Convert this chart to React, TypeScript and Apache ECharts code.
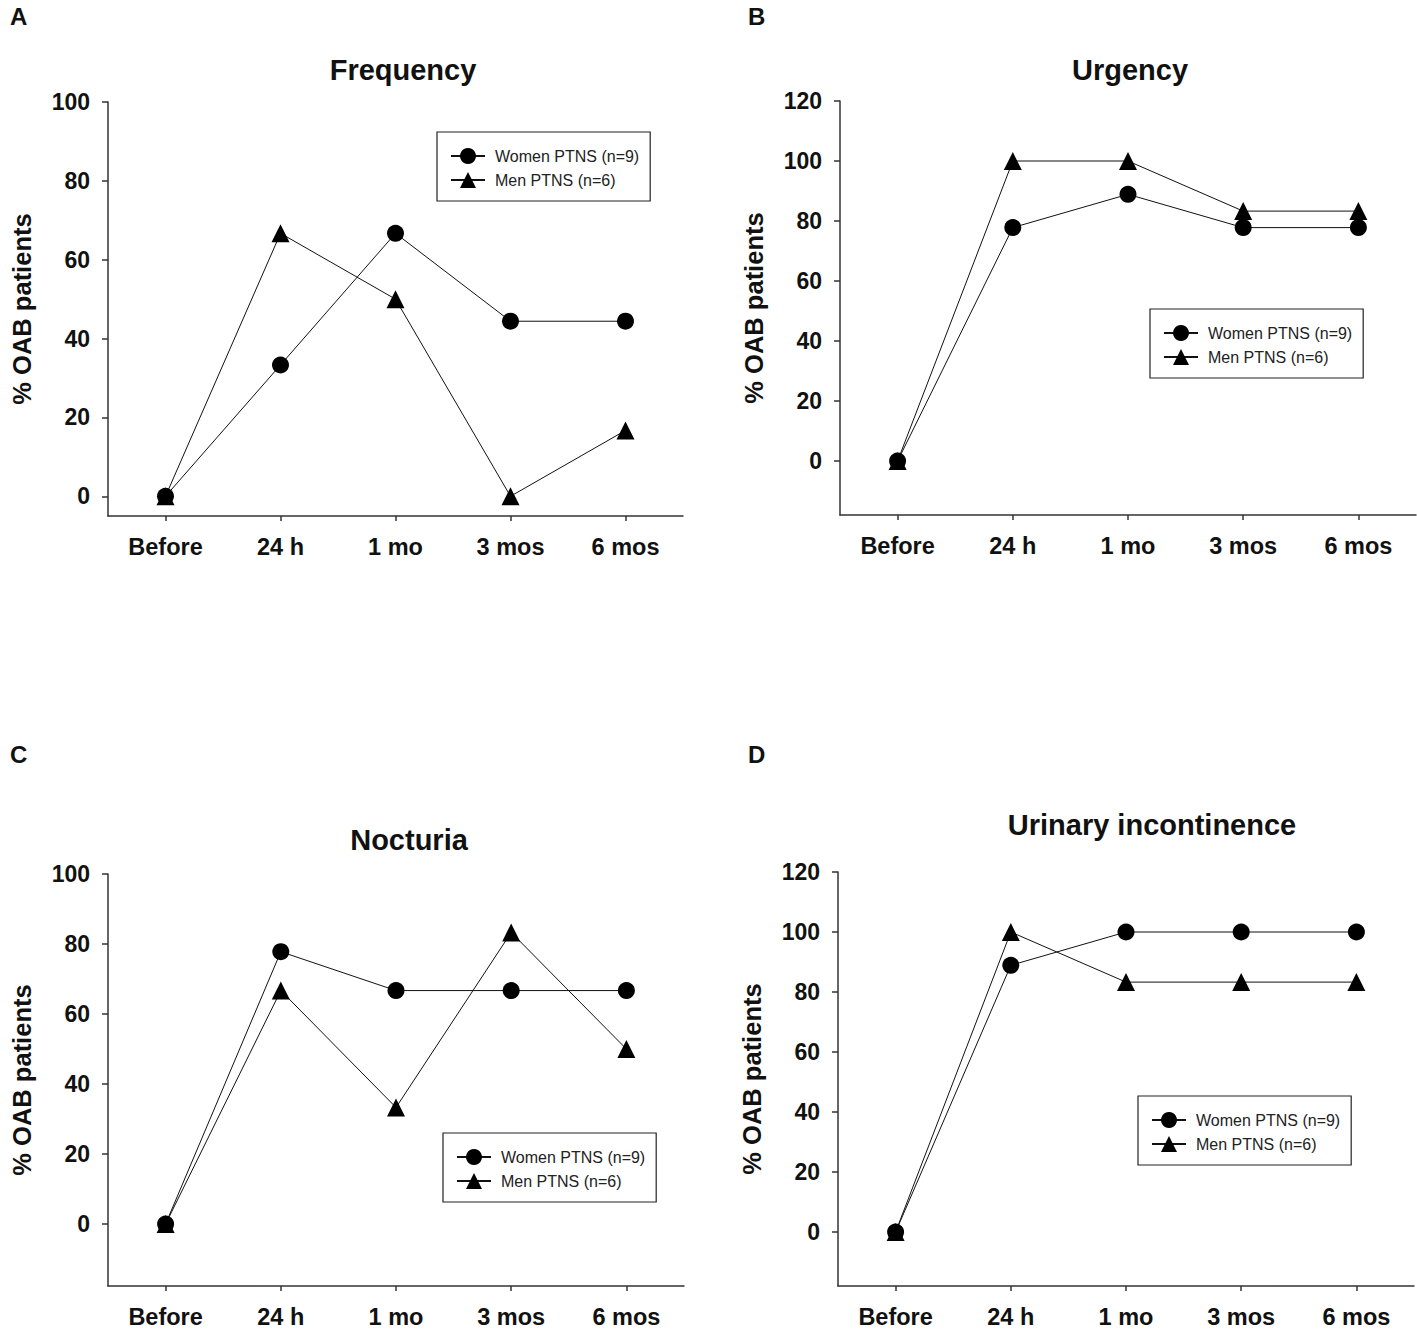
import React, { useEffect, useRef } from "react";
import * as echarts from "echarts";

const categories = ["Before", "24 h", "1 mo", "3 mos", "6 mos"];
const womenName = "Women PTNS (n=9)";
const menName = "Men PTNS (n=6)";

const freqWomen = [0, 33.3, 66.7, 44.4, 44.4];
const freqMen = [0, 66.7, 50, 0, 16.7];
const urgWomen = [0, 77.8, 88.9, 77.8, 77.8];
const urgMen = [0, 100, 100, 83.3, 83.3];
const nocWomen = [0, 77.8, 66.7, 66.7, 66.7];
const nocMen = [0, 66.7, 33.3, 83.3, 50];
const uiWomen = [0, 88.9, 100, 100, 100];
const uiMen = [0, 100, 83.3, 83.3, 83.3];

const ticks100 = [0, 20, 40, 60, 80, 100];
const ticks120 = [0, 20, 40, 60, 80, 100, 120];

const panelTitles = ["Frequency", "Urgency", "Nocturia", "Urinary incontinence"];
const panelLetters = ["A", "B", "C", "D"];

const FONT = "Liberation Sans, Arial, sans-serif";
const INK = "#111";

export default function App() {
  const ref = useRef<HTMLDivElement>(null);
  useEffect(() => {
    if (!ref.current) return;
    const chart = echarts.init(ref.current, null, { renderer: "svg" });

    const grids = [
      { left: 108, top: 102, width: 575, height: 414 },
      { left: 840, top: 101, width: 576, height: 414 },
      { left: 108, top: 874, width: 576, height: 413 },
      { left: 838, top: 872, width: 576, height: 415 },
    ];
    const yRanges = [
      { min: -5, max: 100, ticks: ticks100 },
      { min: -18, max: 120, ticks: ticks120 },
      { min: -17.7, max: 100, ticks: ticks100 },
      { min: -18, max: 120, ticks: ticks120 },
    ];
    const data = [
      [freqWomen, freqMen],
      [urgWomen, urgMen],
      [nocWomen, nocMen],
      [uiWomen, uiMen],
    ];
    const titleCenters = [
      { x: 403, y: 55 },
      { x: 1130, y: 55 },
      { x: 409, y: 825 },
      { x: 1152, y: 810 },
    ];
    const legendPos = [
      { left: 437, top: 132 },
      { left: 1150, top: 309 },
      { left: 443, top: 1133 },
      { left: 1138, top: 1096 },
    ];
    const letterPos = [
      { x: 10, y: 4 },
      { x: 748, y: 4 },
      { x: 10, y: 742 },
      { x: 748, y: 742 },
    ];

    const series: any[] = [];
    data.forEach((pair, i) => {
      series.push({
        type: "line",
        name: womenName,
        xAxisIndex: i,
        yAxisIndex: i,
        data: pair[0],
        symbol: "circle",
        symbolSize: 17,
        lineStyle: { color: INK, width: 1 },
        itemStyle: { color: "#000" },
        z: 3,
      });
      series.push({
        type: "line",
        name: menName,
        xAxisIndex: i,
        yAxisIndex: i,
        data: pair[1],
        symbol: "triangle",
        symbolSize: 18,
        lineStyle: { color: INK, width: 1 },
        itemStyle: { color: "#000" },
        z: 2,
      });
    });

    const option: any = {
      animation: false,
      backgroundColor: "#fff",
      textStyle: { fontFamily: FONT },
      title: panelTitles.map((t, i) => ({
        text: t,
        left: titleCenters[i].x,
        top: titleCenters[i].y,
        padding: 0,
        textAlign: "center",
        textStyle: { fontFamily: FONT, fontSize: 29, fontWeight: "bold", color: INK },
      })),
      graphic: panelLetters.map((l, i) => ({
        type: "text",
        x: letterPos[i].x,
        y: letterPos[i].y,
        style: { text: l, fontFamily: FONT, fontSize: 24, fontWeight: "bold", fill: INK },
      })),
      legend: legendPos.map((p) => ({
        left: p.left,
        top: p.top,
        orient: "vertical",
        data: [womenName, menName],
        selectedMode: false,
        borderColor: "#222",
        borderWidth: 1.2,
        borderRadius: 0,
        padding: [16, 11, 13, 13],
        itemWidth: 34,
        itemHeight: 20,
        itemGap: 8,
        textStyle: { fontFamily: FONT, fontSize: 16, color: "#222", padding: [0, 0, 0, 5] },
      })),
      grid: grids,
      xAxis: grids.map((_, i) => ({
        type: "category",
        gridIndex: i,
        data: categories,
        boundaryGap: true,
        axisLine: { onZero: false, lineStyle: { color: "#333", width: 1.5 } },
        axisTick: { show: true, alignWithLabel: true, length: 5, lineStyle: { color: "#333", width: 1.5 } },
        axisLabel: { fontFamily: FONT, fontSize: 23.5, fontWeight: "bold", color: INK, margin: 19 },
        splitLine: { show: false },
      })),
      yAxis: yRanges.map((r, i) => ({
        type: "value",
        gridIndex: i,
        min: r.min,
        max: r.max,
        name: "% OAB patients",
        nameLocation: "middle",
        nameGap: 73,
        nameRotate: 90,
        nameTextStyle: { fontFamily: FONT, fontSize: 25.5, fontWeight: "bold", color: INK },
        axisLine: { show: true, onZero: false, lineStyle: { color: "#333", width: 1.5 } },
        axisTick: { show: true, length: 6, customValues: r.ticks, lineStyle: { color: "#333", width: 1.5 } },
        axisLabel: { customValues: r.ticks, fontFamily: FONT, fontSize: 23, fontWeight: "bold", color: INK, margin: 18 },
        splitLine: { show: false },
      })),
      series,
    };
    chart.setOption(option);
    return () => chart.dispose();
  }, []);
  return (
    <div
      ref={ref}
      style={{ position: "absolute", left: 0, top: 0, width: 1417, height: 1329 }}
    />
  );
}
